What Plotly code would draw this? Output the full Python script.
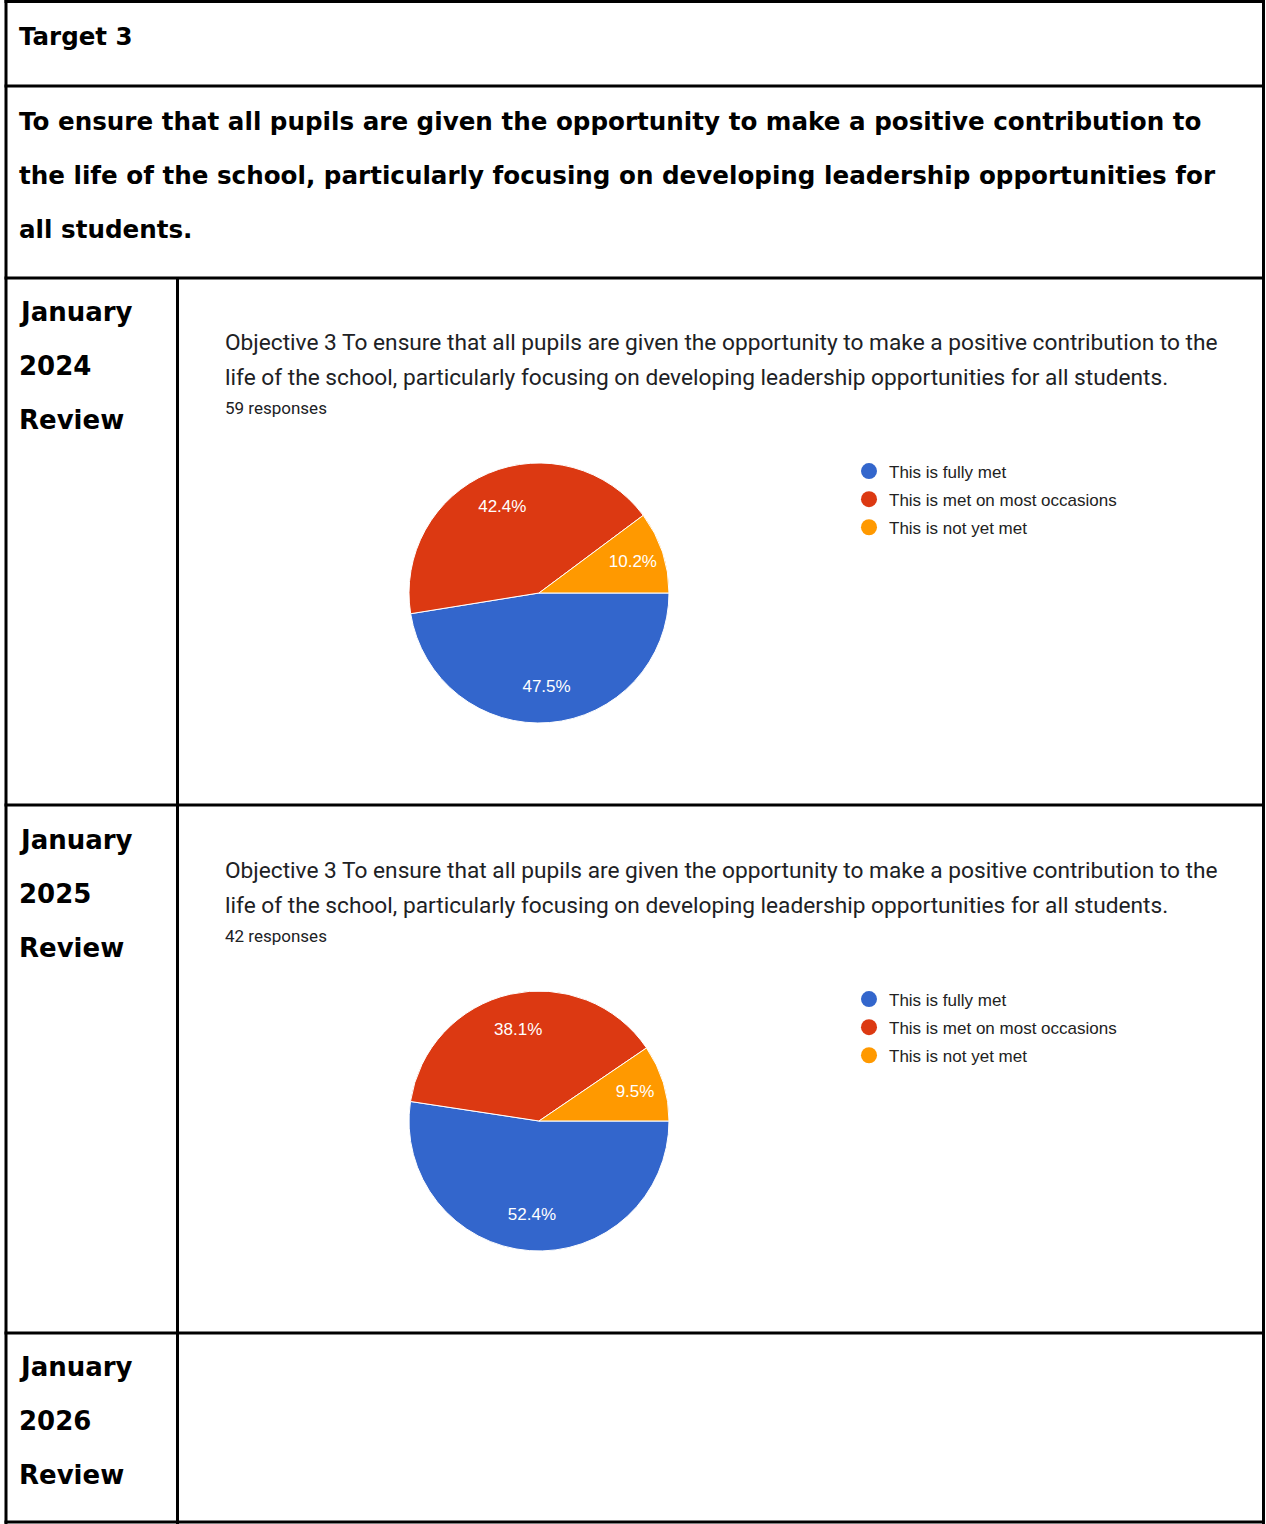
import plotly.graph_objects as go

W, H = 1266, 1524

categories = ["This is fully met", "This is met on most occasions", "This is not yet met"]
colors = ["#3366cc", "#dc3912", "#ff9900"]
pct_2024 = [47.5, 42.4, 10.2]
pct_2025 = [52.4, 38.1, 9.5]
responses_2024 = 59
responses_2025 = 42

title_text = "Target 3"
heading_lines = [
    "To ensure that all pupils are given the opportunity to make a positive contribution to",
    "the life of the school, particularly focusing on developing leadership opportunities for",
    "all students.",
]
objective_lines = [
    "Objective 3 To ensure that all pupils are given the opportunity to make a positive contribution to the",
    "life of the school, particularly focusing on developing leadership opportunities for all students.",
]
row_labels = [["January", "2024", "Review"], ["January", "2025", "Review"], ["January", "2026", "Review"]]

fig = go.Figure()

def dom(cx, cy, r):
    return dict(x=[(cx - r) / W, (cx + r) / W], y=[1 - (cy + r) / H, 1 - (cy - r) / H])

pies = [(pct_2024, dom(539, 593, 130)), (pct_2025, dom(539, 1121, 130))]
for vals, d in pies:
    # filled pie
    fig.add_trace(go.Pie(
        labels=categories, values=vals, domain=d, sort=False, direction="clockwise",
        rotation=90, marker=dict(colors=colors, line=dict(color="white", width=1)),
        textinfo="none", showlegend=False, hoverinfo="label+percent",
    ))
    # transparent ring carrying the percentage labels (places them further out)
    fig.add_trace(go.Pie(
        labels=categories, values=vals, domain=d, sort=False, direction="clockwise",
        rotation=90, hole=0.45,
        marker=dict(colors=["rgba(0,0,0,0)"] * 3, line=dict(width=0)),
        texttemplate="%{value:.1f}%", textposition="inside", insidetextorientation="horizontal",
        textfont=dict(family="Liberation Sans, Arial", size=17, color="white"),
        showlegend=False, hoverinfo="skip",
    ))

for leg in ["legend", "legend2"]:
    for i, (c, col) in enumerate(zip(categories, colors)):
        fig.add_trace(go.Scatter(
            x=[None], y=[None], mode="markers", name=c,
            marker=dict(size=16, color=col, symbol="circle"),
            legend=leg, legendgroup=f"{leg}_{i}", showlegend=True,
        ))

shapes = []
def line(x0, y0, x1, y1):
    shapes.append(dict(type="line", xref="x", yref="y", x0=x0, y0=y0, x1=x1, y1=y1,
                       line=dict(color="black", width=3)))

line(4.5, 1.5, 1264.5, 1.5)
line(6, 0, 6, H)
line(1263.5, 0, 1263.5, H)
line(4.5, 86, 1264.5, 86)
line(4.5, 278, 1264.5, 278)
line(4.5, 805, 1264.5, 805)
line(4.5, 1333, 1264.5, 1333)
line(4.5, 1522, 1264.5, 1522)
line(177.5, 278, 177.5, H)

ann = []
def txt(x, y, s, size, family, color="black", bold=False):
    ann.append(dict(x=x, y=y, xref="x", yref="y", text=f"<b>{s}</b>" if bold else s,
                    showarrow=False, xanchor="left", yanchor="middle",
                    font=dict(size=size, family=family, color=color)))

GOTH = "DejaVu Sans"
txt(17, 36, title_text, 24.5, GOTH, bold=True)
for i, s in enumerate(heading_lines):
    txt(17, 121 + 54 * i, s, 24.6, GOTH, bold=True)
for r, y0 in zip(row_labels, [312, 840, 1367]):
    for i, s in enumerate(r):
        txt(17, y0 + 54 * i, s, 26, GOTH, bold=True)

for y0, n in [(342, responses_2024), (870, responses_2025)]:
    for i, s in enumerate(objective_lines):
        txt(223, y0 + 35 * i, s, 22.7, "Roboto", color="#202124")
    txt(223, y0 + 66, f"{n} responses", 17, "Roboto", color="#202124")

legend_common = dict(
    xanchor="left", yanchor="top", bgcolor="rgba(0,0,0,0)", tracegroupgap=3,
    font=dict(family="Liberation Sans, Arial", size=17, color="#222222"), itemclick=False,
)
fig.update_layout(
    width=W, height=H, margin=dict(l=0, r=0, t=0, b=0),
    paper_bgcolor="white", plot_bgcolor="white",
    xaxis=dict(range=[0, W], visible=False, fixedrange=True, domain=[0, 1]),
    yaxis=dict(range=[H, 0], visible=False, fixedrange=True, domain=[0, 1]),
    shapes=shapes, annotations=ann,
    legend=dict(x=849 / W, y=1 - 453.5 / H, **legend_common),
    legend2=dict(x=849 / W, y=1 - 981.5 / H, **legend_common),
)

fig.write_html("out.html", config={"displayModeBar": False},
               post_script="document.body.style.margin='0px';")
